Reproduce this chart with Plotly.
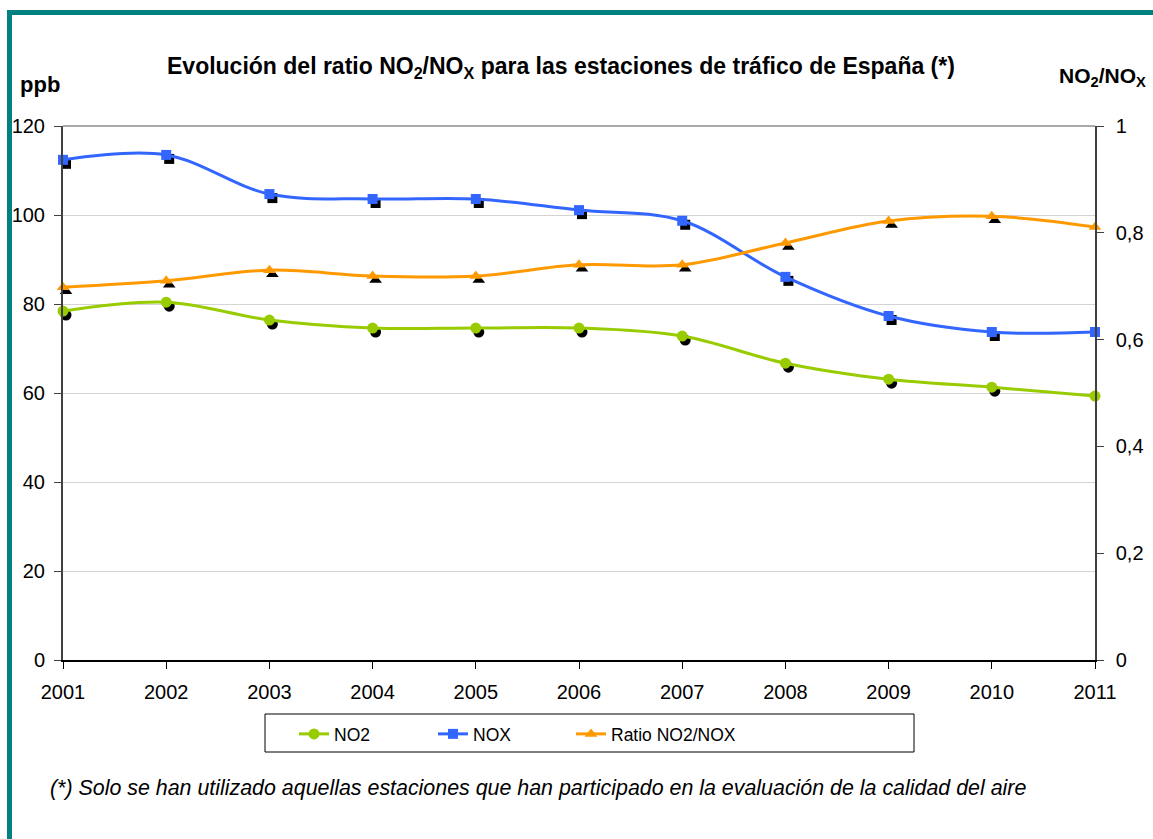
import plotly.graph_objects as go

years = [2001, 2002, 2003, 2004, 2005, 2006, 2007, 2008, 2009, 2010, 2011]
year_labels = [str(y) for y in years]
no2 = [78.4, 80.4, 76.4, 74.6, 74.6, 74.6, 72.8, 66.7, 63.1, 61.3, 59.3]
nox = [112.4, 113.5, 104.7, 103.6, 103.6, 101.1, 98.7, 86.1, 77.3, 73.7, 73.7]
ratio = [0.698, 0.710, 0.730, 0.719, 0.719, 0.740, 0.740, 0.781, 0.822, 0.831, 0.811]

GREEN = "#99CC00"
BLUE = "#3366FF"
ORANGE = "#FF9900"
FONT = "Liberation Sans, Arial, sans-serif"

W, H = 1153, 839
L, T = 63, 126
PW, PH = 1032, 534
R = W - L - PW
B = H - T - PH

# shadow offset in pixels (right, down)
DX, DY = 3, 4
yr_span = years[-1] - years[0]
sx = DX * yr_span / PW
sy_left = DY * 120 / PH
sy_right = DY * 1.0 / PH

fig = go.Figure()

# shadows (drawn first, underneath)
fig.add_trace(go.Scatter(x=years, y=no2, mode="markers", xaxis="x", yaxis="y",
                         marker=dict(symbol="circle", size=11, color="black"),
                         showlegend=False, hoverinfo="skip", cliponaxis=False))
fig.add_trace(go.Scatter(x=years, y=nox, mode="markers", xaxis="x", yaxis="y",
                         marker=dict(symbol="square", size=10, color="black"),
                         showlegend=False, hoverinfo="skip", cliponaxis=False))
fig.add_trace(go.Scatter(x=years, y=ratio, mode="markers", xaxis="x", yaxis="y2",
                         marker=dict(symbol="triangle-up", size=11, color="black"),
                         showlegend=False, hoverinfo="skip", cliponaxis=False))

# real series
fig.add_trace(go.Scatter(x=years, y=no2, name="NO2", mode="lines+markers",
                         xaxis="x2", yaxis="y3", legend="legend",
                         line=dict(color=GREEN, width=3, shape="spline", smoothing=1.0),
                         marker=dict(symbol="circle", size=11, color=GREEN),
                         cliponaxis=False))
fig.add_trace(go.Scatter(x=years, y=nox, name="NOX", mode="lines+markers",
                         xaxis="x2", yaxis="y3", legend="legend2",
                         line=dict(color=BLUE, width=3, shape="spline", smoothing=1.0),
                         marker=dict(symbol="square", size=10, color=BLUE),
                         cliponaxis=False))
fig.add_trace(go.Scatter(x=years, y=ratio, name="Ratio NO2/NOX", mode="lines+markers",
                         xaxis="x2", yaxis="y4", legend="legend3",
                         line=dict(color=ORANGE, width=3, shape="spline", smoothing=1.0),
                         marker=dict(symbol="triangle-up", size=11, color=ORANGE),
                         cliponaxis=False))


def px_x(p):
    return (p - L) / PW


def px_y(p):
    return (T + PH - p) / PH


hidden = dict(visible=False, showgrid=False, zeroline=False, fixedrange=True)
leg_common = dict(orientation="h", yanchor="middle", xanchor="left",
                  bgcolor="rgba(0,0,0,0)", borderwidth=0, itemwidth=30,
                  font=dict(family=FONT, size=17.5, color="black"))
LEG_Y = px_y(734)

fig.update_layout(
    width=W, height=H,
    margin=dict(l=L, r=R, t=T, b=B, autoexpand=False),
    paper_bgcolor="white", plot_bgcolor="white",
    separators=",.",
    font=dict(family=FONT, color="black", size=20),
    showlegend=True,
    legend=dict(leg_common, x=px_x(294), y=LEG_Y),
    legend2=dict(leg_common, x=px_x(433), y=LEG_Y),
    legend3=dict(leg_common, x=px_x(571), y=LEG_Y),
    xaxis=dict(hidden, range=[years[0] - sx, years[-1] - sx], domain=[0, 1]),
    yaxis=dict(hidden, range=[0 + sy_left, 120 + sy_left]),
    yaxis2=dict(hidden, range=[0 + sy_right, 1 + sy_right], overlaying="y", anchor="x"),
    xaxis2=dict(overlaying="x", anchor="y3", range=[years[0], years[-1]],
                tickvals=years, ticktext=year_labels, showgrid=False, zeroline=False,
                showline=True, linecolor="black", linewidth=1.5,
                ticks="outside", ticklen=7, tickcolor="black", tickwidth=1,
                ticklabelstandoff=6, automargin=False,
                tickfont=dict(family=FONT, size=20, color="black"), fixedrange=True),
    yaxis3=dict(overlaying="y", anchor="x2", side="left", range=[0, 120],
                tickvals=[0, 20, 40, 60, 80, 100, 120],
                showgrid=True, gridcolor="#d4d4d4", gridwidth=1, zeroline=False,
                showline=True, linecolor="#404040", linewidth=2,
                ticks="outside", ticklen=7, tickcolor="#404040", tickwidth=1,
                ticklabelstandoff=5, automargin=False,
                tickfont=dict(family=FONT, size=20, color="black"), fixedrange=True),
    yaxis4=dict(overlaying="y", anchor="x2", side="right", range=[0, 1],
                tickvals=[0, 0.2, 0.4, 0.6, 0.8, 1],
                showgrid=False, zeroline=False,
                showline=True, linecolor="#404040", linewidth=1.5,
                ticks="outside", ticklen=7, tickcolor="#404040", tickwidth=1,
                ticklabelstandoff=8, automargin=False,
                tickfont=dict(family=FONT, size=20, color="black"), fixedrange=True),
)

shapes = [
    # teal frame
    dict(type="rect", xref="paper", yref="paper", x0=px_x(7), x1=px_x(12),
         y0=px_y(850), y1=px_y(10), fillcolor="#008080", line=dict(width=0), layer="above"),
    dict(type="rect", xref="paper", yref="paper", x0=px_x(7), x1=px_x(1170),
         y0=px_y(15), y1=px_y(10), fillcolor="#008080", line=dict(width=0), layer="above"),
    # top border of plot area
    dict(type="line", xref="paper", yref="paper", x0=0, x1=1, y0=1, y1=1,
         line=dict(color="#8c8c8c", width=1.5), layer="below"),
    # legend box
    dict(type="rect", xref="paper", yref="paper", x0=px_x(265), x1=px_x(914),
         y0=px_y(752), y1=px_y(714), line=dict(color="black", width=1),
         fillcolor="rgba(0,0,0,0)"),
]
fig.update_layout(shapes=shapes)

annotations = [
    dict(text="<b>Evolución del ratio NO<sub>2</sub>/NO<sub>X</sub> para las estaciones de tráfico de España (*)</b>",
         x=px_x(561), y=px_y(67), xref="paper", yref="paper", showarrow=False,
         xanchor="center", yanchor="middle", font=dict(family=FONT, size=23, color="black")),
    dict(text="<b>ppb</b>", x=px_x(18), y=px_y(85), xref="paper", yref="paper",
         showarrow=False, xanchor="left", yanchor="middle",
         font=dict(family=FONT, size=22, color="black")),
    dict(text="<b>NO<sub>2</sub>/NO<sub>X</sub></b>", x=px_x(1148), y=px_y(77),
         xref="paper", yref="paper", showarrow=False, xanchor="right", yanchor="middle",
         font=dict(family=FONT, size=21, color="black")),
    dict(text="<i>(*) Solo se han utilizado aquellas estaciones que han participado en la evaluación de la calidad del aire</i>",
         x=px_x(48), y=px_y(788), xref="paper", yref="paper", showarrow=False,
         xanchor="left", yanchor="middle", font=dict(family=FONT, size=21.4, color="black")),
]
fig.update_layout(annotations=annotations)

fig.write_html(
    "out.html",
    config={"displayModeBar": False},
    post_script="document.body.style.margin='0';document.body.style.overflow='hidden';",
)
